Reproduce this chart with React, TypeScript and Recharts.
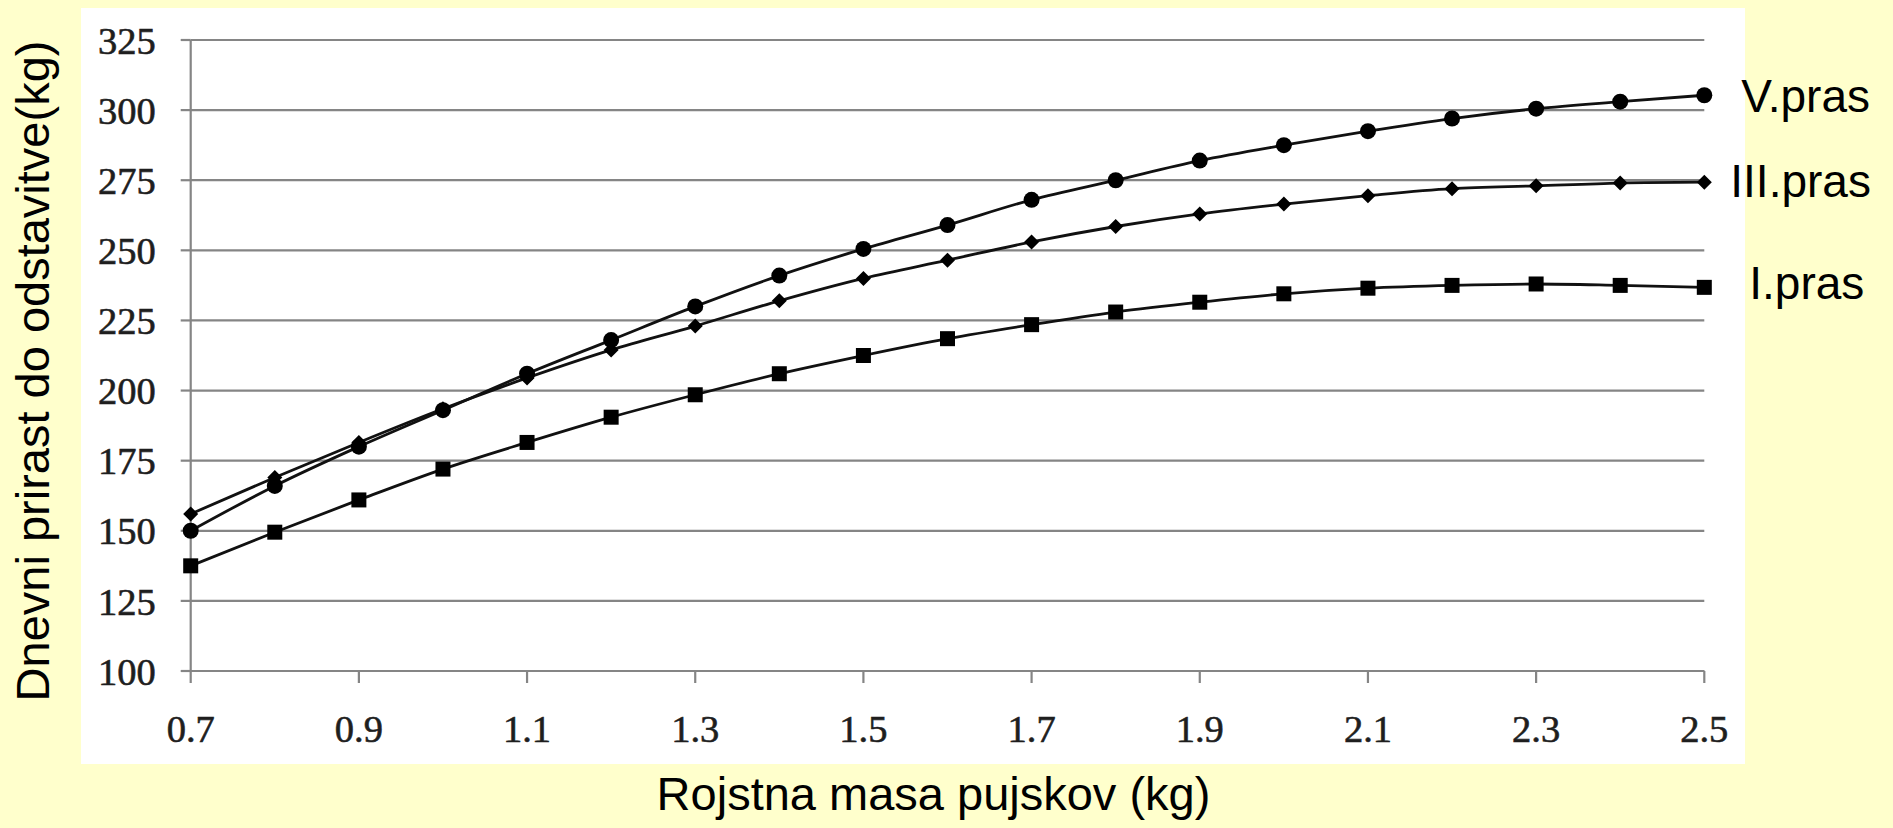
import { LineChart, Line, XAxis, YAxis, CartesianGrid, LabelList, Label } from "recharts";

// birth mass of piglets (kg)
const massKg = [0.7, 0.8, 0.9, 1.0, 1.1, 1.2, 1.3, 1.4, 1.5, 1.6, 1.7, 1.8, 1.9, 2.0, 2.1, 2.2, 2.3, 2.4, 2.5];

// daily gain until weaning, per litter
const vPras = [150, 166, 180, 193, 206, 218, 230, 241, 250.5, 259, 268, 275, 282, 287.5, 292.5, 297, 300.5, 303, 305.3];
const iiiPras = [156, 169, 181.5, 193.5, 204.5, 214.5, 223, 232, 240, 246.5, 253, 258.5, 263, 266.5, 269.5, 272, 273, 274, 274.3];
const iPras = [137.5, 149.5, 161, 172, 181.5, 190.5, 198.5, 206, 212.5, 218.5, 223.5, 228, 231.5, 234.5, 236.5, 237.5, 238, 237.5, 236.8];

const xTicks = [0.7, 0.9, 1.1, 1.3, 1.5, 1.7, 1.9, 2.1, 2.3, 2.5];
const yTicks = [100, 125, 150, 175, 200, 225, 250, 275, 300, 325];

const data = massKg.map((m, i) => ({ mass: m, v: vPras[i], iii: iiiPras[i], i: iPras[i] }));

const GRID = "#858585";
const SERIF = '"Liberation Serif", "Times New Roman", serif';
const SANS = '"Liberation Sans", Arial, sans-serif';
const tickStyle = { fill: "#1e1e1e", stroke: "#1e1e1e", strokeWidth: 0.6, fontFamily: SERIF, fontSize: 38.5 };

function CircleDot(p: any) {
  return <circle cx={p.cx} cy={p.cy} r={8} fill="#000" />;
}
function DiamondDot(p: any) {
  const h = 7.5;
  return <path d={`M${p.cx},${p.cy - h}L${p.cx + h},${p.cy}L${p.cx},${p.cy + h}L${p.cx - h},${p.cy}Z`} fill="#000" />;
}
function SquareDot(p: any) {
  const s = 15;
  return <rect x={p.cx - s / 2} y={p.cy - s / 2} width={s} height={s} fill="#000" />;
}

const series = [
  { key: "i", name: "I.pras", Dot: SquareDot, dx: 45, dy: 12 },
  { key: "iii", name: "III.pras", Dot: DiamondDot, dx: 26, dy: 15 },
  { key: "v", name: "V.pras", Dot: CircleDot, dx: 37, dy: 16.5 },
];

const last = massKg.length - 1;

export default function App() {
  return (
    <div style={{ position: "fixed", left: 0, top: 0, width: 1893, height: 828, background: "#FFFFCC", overflow: "hidden" }}>
      <div style={{ position: "absolute", left: 81, top: 8, width: 1664, height: 756, background: "#fff" }} />
      <div style={{ position: "absolute", left: 0, top: 0 }}>
        <LineChart width={1893} height={828} data={data} margin={{ top: 40, right: 188.7, bottom: 97, left: 80.7 }}>
          <CartesianGrid vertical={false} stroke={GRID} strokeWidth={2.2} />
          <XAxis
            dataKey="mass"
            type="number"
            domain={[0.7, 2.5]}
            ticks={xTicks}
            tickFormatter={(v: number) => v.toFixed(1)}
            height={60}
            stroke={GRID}
            strokeWidth={2.2}
            tickSize={12}
            tickMargin={32}
            tick={tickStyle}
          >
            <Label
              content={(p: any) => {
                const vb = p.viewBox;
                return (
                  <text x={vb.x + vb.width / 2 - 14} y={810} textAnchor="middle" fill="#000" fontFamily={SANS} fontSize={47}>
                    Rojstna masa pujskov (kg)
                  </text>
                );
              }}
            />
          </XAxis>
          <YAxis
            type="number"
            domain={[100, 325]}
            ticks={yTicks}
            width={110}
            stroke={GRID}
            strokeWidth={2.2}
            tickSize={10}
            tickMargin={25}
            tick={tickStyle}
          >
            <Label
              content={(p: any) => {
                const vb = p.viewBox;
                const cx = vb.x - 48.7;
                const cy = vb.y + vb.height / 2 + 15.5;
                return (
                  <text x={cx} y={cy} transform={`rotate(-90, ${cx}, ${cy})`} textAnchor="middle" dominantBaseline="central" fill="#000" fontFamily={SANS} fontSize={47}>
                    Dnevni prirast do odstavitve(kg)
                  </text>
                );
              }}
            />
          </YAxis>
          {series.map((s) => (
            <Line
              key={s.key}
              dataKey={s.key}
              name={s.name}
              type="monotone"
              stroke="#111"
              strokeWidth={2.8}
              isAnimationActive={false}
              dot={(p: any) => <s.Dot key={`${s.key}-${p.index}`} cx={p.cx} cy={p.cy} />}
              activeDot={false}
            >
              <LabelList
                dataKey={s.key}
                content={(p: any) =>
                  p.index === last ? (
                    <text x={p.x + s.dx} y={p.y + s.dy} fill="#000" fontFamily={SANS} fontSize={46}>
                      {s.name}
                    </text>
                  ) : null
                }
              />
            </Line>
          ))}
        </LineChart>
      </div>
    </div>
  );
}
